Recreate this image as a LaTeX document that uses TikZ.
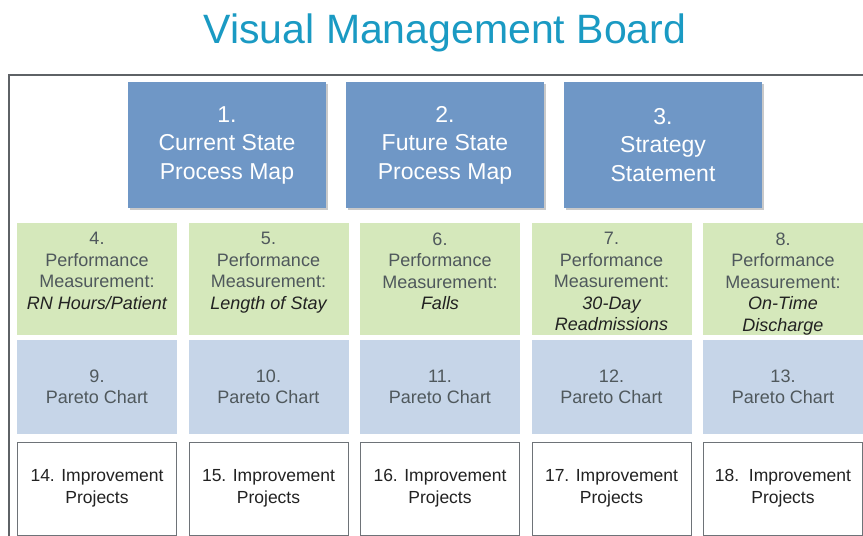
\documentclass[tikz,border=0pt]{standalone}
\usepackage{fontspec}
\setmainfont{Liberation Sans}
\usetikzlibrary{shadows}
\definecolor{titleblue}{HTML}{1A9AC3}
\definecolor{topblue}{HTML}{6F97C6}
\definecolor{lgreen}{HTML}{D5E8BB}
\definecolor{lblue}{HTML}{C6D5E8}
\definecolor{framegray}{HTML}{5E6266}
\definecolor{boxgray}{HTML}{6E7378}
\definecolor{txtgray}{HTML}{4F585C}
\definecolor{txtdark}{HTML}{222222}
\begin{document}
\begin{tikzpicture}[x=1pt,y=-1pt,
  topbox/.style={fill=topblue, draw=none, minimum width=198pt, minimum height=126pt,
    inner sep=0pt, align=center, text=white, font=\fontsize{23}{28.5}\selectfont,
    drop shadow={shadow xshift=1.5pt, shadow yshift=-2pt, opacity=0.35, fill=black!60}},
  greenbox/.style={fill=lgreen, draw=none, minimum width=160pt, minimum height=112pt, inner sep=0pt},
  gtext/.style={anchor=north, inner sep=0pt, align=center, text=txtgray, font=\fontsize{18}{21.5}\selectfont},
  paretobox/.style={fill=lblue, draw=none, minimum width=160pt, minimum height=94pt, inner sep=0pt,
    align=center, text=txtgray, font=\fontsize{18}{21.5}\selectfont},
  projbox/.style={fill=white, draw=boxgray, line width=1pt, minimum width=159pt, minimum height=93pt, inner sep=0pt,
    align=center, text=txtdark, font=\fontsize{17.5}{22}\selectfont}]
\useasboundingbox (0,0) rectangle (863,536);
\clip (0,0) rectangle (863,536);
\fill[white] (0,0) rectangle (863,536);
% title
\node[anchor=base, text=titleblue, font=\fontsize{41}{48}\selectfont, inner sep=0pt] (title) at (445,43) {Visual Management Board};
% frame
\draw[framegray, line width=2pt] (9,560) -- (9,75) -- (880,75);
% top boxes
\node[topbox] (b1) at (227,145) {1.\\Current State\\Process Map};
\node[topbox] (b2) at (445,145) {2.\\Future State\\Process Map};
\node[topbox] (b3) at (663,145) {3.\\Strategy\\Statement};
% green row
\foreach \n/\x in {4/97,5/268.5,6/440,7/611.5,8/783}{
  \node[greenbox] (g\n) at (\x,279) {};
}
\node[gtext] (t4) at ([yshift=-9.5pt]g4.north) {4.\\Performance\\Measurement:\\\textcolor{txtdark}{\itshape RN Hours/Patient}};
\node[gtext] (t5) at ([yshift=-9.5pt]g5.north) {5.\\Performance\\Measurement:\\\textcolor{txtdark}{\itshape Length of Stay}};
\node[gtext] (t6) at ([yshift=-9.5pt]g6.north) {6.\\Performance\\Measurement:\\\textcolor{txtdark}{\itshape Falls}};
\node[gtext] (t7) at ([yshift=-9.5pt]g7.north) {7.\\Performance\\Measurement:\\\textcolor{txtdark}{\itshape 30-Day}\\\textcolor{txtdark}{\itshape Readmissions}};
\node[gtext] (t8) at ([yshift=-9.5pt]g8.north) {8.\\Performance\\Measurement:\\\textcolor{txtdark}{\itshape On-Time}\\\textcolor{txtdark}{\itshape Discharge}};
% pareto row
\node[paretobox] (p9)  at (97,387)    {9.\\Pareto Chart};
\node[paretobox] (p10) at (268.5,387) {10.\\Pareto Chart};
\node[paretobox] (p11) at (440,387)   {11.\\Pareto Chart};
\node[paretobox] (p12) at (611.5,387) {12.\\Pareto Chart};
\node[paretobox] (p13) at (783,387)   {13.\\Pareto Chart};
% projects row
\node[projbox] (r14) at (97,488.5)    {14. Improvement\\Projects};
\node[projbox] (r15) at (268.5,488.5) {15. Improvement\\Projects};
\node[projbox] (r16) at (440,488.5)   {16. Improvement\\Projects};
\node[projbox] (r17) at (611.5,488.5) {17. Improvement\\Projects};
\node[projbox] (r18) at (783,488.5)   {18.\ \ Improvement\\Projects};
\end{tikzpicture}
\end{document}
